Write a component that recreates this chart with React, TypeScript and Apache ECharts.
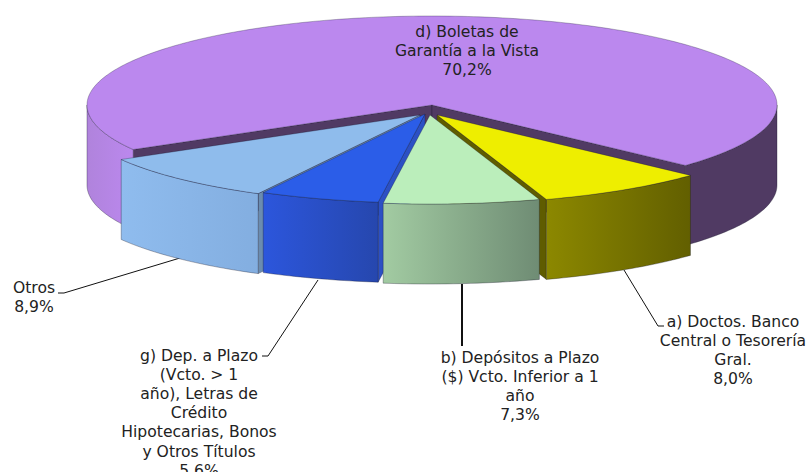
import React, { useEffect, useRef } from "react";
import * as echarts from "echarts";

const sliceNames = [
  "d) Boletas de\nGarantía a la Vista",
  "a) Doctos. Banco\nCentral o Tesorería\nGral.",
  "b) Depósitos a Plazo\n($) Vcto. Inferior a 1\naño",
  "g) Dep. a Plazo\n(Vcto. > 1\naño), Letras de\nCrédito\nHipotecarias, Bonos\ny Otros Títulos",
  "Otros",
];
const shareValues = [70.2, 8.0, 7.3, 5.6, 8.9];
const shareLabels = ["70,2%", "8,0%", "7,3%", "5,6%", "8,9%"];

const paintOrder = [0, 4, 3, 1, 2];
const centers = [[432, 105], [437, 115], [430, 115], [425, 114], [420, 115]];
const topColors = ["#bb88ee", "#eeee00", "#bbeebb", "#2b5de8", "#8fbcec"];
const wallFrom = ["#503a63", "#8c8800", "#a2cba2", "#2c56dc", "#8fbcee"];
const wallTo = ["#503a63", "#625f00", "#6f8c74", "#2647ae", "#83aee0"];
const sideColors = ["#503a63", "#5f5c00", "#6f8c74", "#2c50c4", "#6b8cb0"];
const labelAnchors = [[467, 22], [733, 312], [520, 348], [199, 346], [34, 278]];
const leaders = [
  [[58, 293], [64, 293], [180, 258]],
  [[262, 356], [268, 356], [318, 280]],
  [[462, 284], [462, 346]],
  [[664, 326], [658, 326], [624, 270]],
];

const RX = 345;
const RY = 89;
const DEPTH = 80;
const START_DEG = 150;
const FONT = '15.6px "DejaVu Sans"';
const EDGE = "rgba(20,20,40,0.55)";

const rad = (d: number) => (d * Math.PI) / 180;

function renderItem(params: any, api: any) {
  const share = api.value(0);
  const before = api.value(1);
  const idx = api.value(2);
  const [cx, cy] = centers[idx];
  const a0 = START_DEG + (before / 100) * 360;
  const a1 = a0 + (share / 100) * 360;
  const pt = (t: number, dy = 0) => [cx + RX * Math.cos(rad(t)), cy + RY * Math.sin(rad(t)) + dy];
  const arc = (s: number, e: number) => {
    const out: number[][] = [];
    const n = Math.max(2, Math.ceil(Math.abs(e - s)));
    for (let i = 0; i <= n; i++) out.push(pt(s + ((e - s) * i) / n));
    return out;
  };
  const children: any[] = [];

  const radial = (t: number) => {
    const p = pt(t);
    return {
      type: "polygon",
      shape: { points: [[cx, cy], p, [p[0], p[1] + DEPTH], [cx, cy + DEPTH]] },
      style: { fill: sideColors[idx], stroke: EDGE, lineWidth: 0.5 },
    };
  };
  if (Math.cos(rad(a0)) < 0) children.push(radial(a0));
  if (Math.cos(rad(a1)) > 0) children.push(radial(a1));

  const ranges: number[][] = [];
  for (let k = 0; k <= 1; k++) {
    const s = Math.max(a0, k * 360);
    const e = Math.min(a1, k * 360 + 180);
    if (e > s) ranges.push([s, e]);
  }
  ranges.forEach(([s, e]) => {
    const top = arc(s, e);
    const bottom = top.map((p) => [p[0], p[1] + DEPTH]).reverse();
    const isLeftOfMain = idx === 0 && s < 360;
    const fill = isLeftOfMain
      ? new echarts.graphic.LinearGradient(0, 0, 1, 0, [
          { offset: 0, color: "#b083dc" },
          { offset: 1, color: "#bb88ee" },
        ])
      : new echarts.graphic.LinearGradient(0, 0, 1, 0, [
          { offset: 0, color: wallFrom[idx] },
          { offset: 1, color: wallTo[idx] },
        ]);
    children.push({
      type: "polygon",
      shape: { points: top.concat(bottom) },
      style: { fill, stroke: EDGE, lineWidth: 0.6 },
    });
  });

  children.push({
    type: "polygon",
    shape: { points: [[cx, cy]].concat(arc(a0, a1)) },
    style: { fill: topColors[idx], stroke: EDGE, lineWidth: 0.5 },
  });
  return { type: "group", children };
}

export default function App() {
  const ref = useRef<HTMLDivElement>(null);
  useEffect(() => {
    const chart = echarts.init(ref.current!, undefined, { renderer: "svg" });
    const data = paintOrder.map((i) => [
      shareValues[i],
      shareValues.slice(0, i).reduce((a, b) => a + b, 0),
      i,
    ]);
    chart.setOption({
      animation: false,
      backgroundColor: "#ffffff",
      series: [
        {
          type: "custom",
          coordinateSystem: "none",
          silent: true,
          clip: false,
          data,
          renderItem,
          z: 2,
        },
      ],
      graphic: {
        elements: [
          ...leaders.map((points, i) => ({
            type: "polyline",
            silent: true,
            z: 1,
            shape: { points },
            style: { fill: "none", stroke: "#111111", lineWidth: i === 2 ? 2 : 1 },
          })),
          ...sliceNames.map((name, i) => ({
            type: "text",
            silent: true,
            z: 20,
            x: labelAnchors[i][0],
            y: labelAnchors[i][1],
            style: {
              text: `${name}\n${shareLabels[i]}`,
              font: FONT,
              fill: "#222222",
              align: "center",
              verticalAlign: "top",
              lineHeight: 19.2,
            },
          })),
        ],
      },
    });
    return () => chart.dispose();
  }, []);
  return <div ref={ref} style={{ position: "fixed", left: 0, top: 0, width: 808, height: 472 }} />;
}
